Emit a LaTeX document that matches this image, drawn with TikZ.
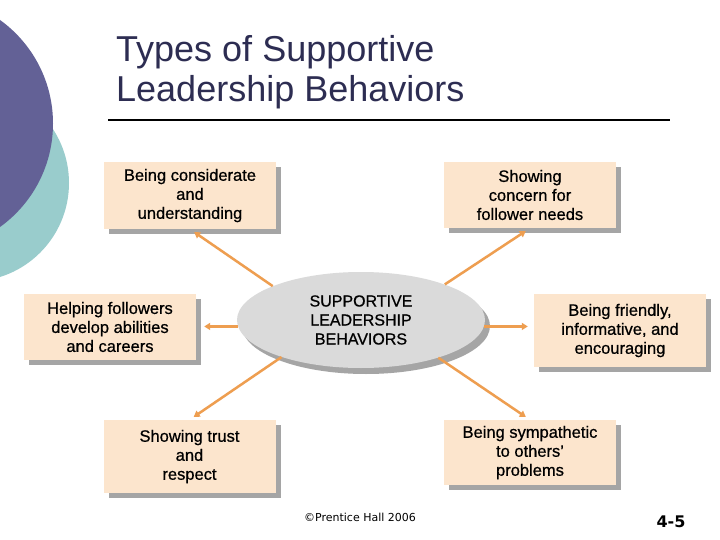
\documentclass[tikz,border=0pt]{standalone}
\usepackage{fontspec}
\setmainfont{Liberation Sans}
\newfontfamily\boxfont[FakeBold=0.7]{Liberation Sans}
\newfontfamily\footfont{DejaVu Sans}
\usepackage{tikz}
\usetikzlibrary{positioning,arrows.meta,shapes.geometric,shadows}
\definecolor{titleblue}{RGB}{45,45,82}
\definecolor{discpurple}{RGB}{99,97,150}
\definecolor{discteal}{RGB}{153,204,204}
\definecolor{peach}{RGB}{252,229,205}
\definecolor{shade}{RGB}{165,165,165}
\definecolor{ovalgray}{RGB}{218,218,218}
\definecolor{linkorange}{RGB}{238,158,80}

\begin{document}
\begin{tikzpicture}[x=1pt, y=-1pt, >={Triangle[length=6pt, width=7pt]},
  behav/.style={fill=peach, align=center, minimum width=172pt, inner sep=2pt,
    font=\boxfont\fontsize{16.5}{19}\selectfont,
    drop shadow={shadow xshift=5pt, shadow yshift=-5pt, fill=shade, opacity=1}},
  link/.style={->, draw=linkorange, line width=2.5pt, shorten >=5pt}]
\useasboundingbox (0,0) rectangle (720,540);
\fill[white] (0,0) rectangle (720,540);
% side discs
\fill[discteal] (-29.5,183) circle (98.5);
\fill[discpurple] (-74.6,123.5) circle (127.6);
% title
\node[anchor=base west, inner sep=0, text=titleblue, font=\fontsize{36}{40}\selectfont] (title1) at (116,62) {Types of Supportive};
\node[anchor=base west, inner sep=0, text=titleblue, font=\fontsize{36}{40}\selectfont] (title2) at (116,102) {Leadership Behaviors};
\draw[line width=2pt] (108,120) -- (670,120);
% behaviours
\node[behav, minimum height=67pt] (b1) at (190,195.5) {Being considerate\\and\\understanding};
\node[behav, minimum height=66pt] (b2) at (530,195) {Showing\\concern for\\follower needs};
\node[behav, minimum height=66pt] (b3) at (110,327) {Helping followers\\develop abilities\\and careers};
\node[behav, minimum height=73pt] (b4) at (189.5,456.5) {Showing trust\\and\\respect};
\node[behav, minimum height=73pt] (b5) at (620,330.5) {Being friendly,\\informative, and\\encouraging};
\node[behav, minimum height=65pt] (b6) at (530,452.5) {Being sympathetic\\to others’\\problems};
\node[ellipse, fill=ovalgray, minimum width=248pt, minimum height=96pt, inner sep=0, align=center,
  font=\boxfont\fontsize{16}{19}\selectfont,
  drop shadow={shadow xshift=5pt, shadow yshift=-6pt, fill=shade, opacity=1}] (core) at (361,320) {SUPPORTIVE\\LEADERSHIP\\BEHAVIORS};
% links
\draw[link, shorten >=8pt] (core.183) -- (core.183 -| b3.east);
\draw[link, shorten >=6pt] (core.-3) -- (core.-3 -| b5.west);
\foreach \a/\b in {159/b1.south, 23/b2.south, 205/b4.north, -26/b6.north}
  \draw[link] (core.\a) -- (\b);
% footer
\node[font=\footfont\fontsize{11}{13}\selectfont] (credit) at (360,517) {©Prentice Hall 2006};
\node[font=\footfont\bfseries\fontsize{16}{19}\selectfont] (page) at (671,521.5) {4-5};
\end{tikzpicture}
\end{document}
